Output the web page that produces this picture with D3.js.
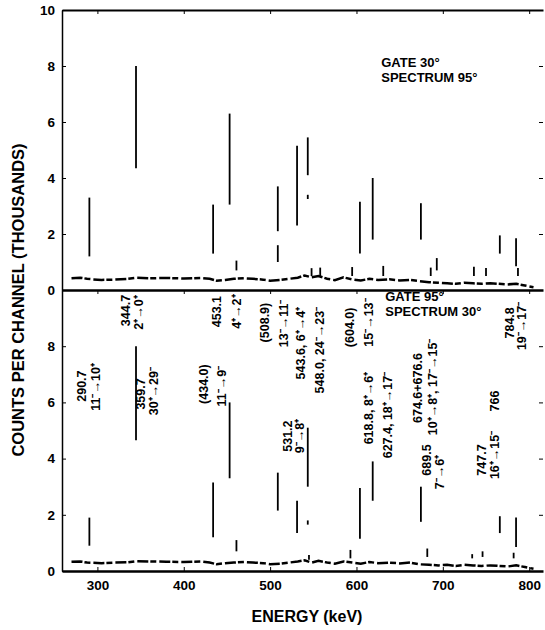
<!DOCTYPE html>
<html>
<head>
<meta charset="utf-8">
<title></title>
<script src="https://d3js.org/d3.v7.min.js"></script>
<style>
body { margin: 0; background: #fff; }
svg { display: block; font-family: "Liberation Sans", Arial, sans-serif; font-weight: bold; }
.axis path, .axis line { stroke: #000; }
.axis text { font-size: 13.5px; font-weight: bold; fill: #000; }
</style>
</head>
<body>
<div id="chart"></div>
<script>
const energyDomain = [259, 816];
const countDomain = [0, 10];
const xTicks = [300, 400, 500, 600, 700, 800];
const yTicksUpper = [0, 2, 4, 6, 8, 10];
const yTicksLower = [0, 2, 4, 6, 8];

// gate 30 deg, spectrum 95 deg : background trace [keV, thousands]
const upperBg = [[270,0.42],[280,0.44],[288,0.40],[295,0.38],[305,0.36],[320,0.37],[335,0.40],[345,0.44],
  [360,0.42],[380,0.43],[400,0.41],[420,0.43],[430,0.40],[438,0.33],[448,0.36],[458,0.40],[470,0.42],
  [480,0.40],[492,0.37],[500,0.33],[512,0.36],[522,0.40],[532,0.44],[540,0.52],[548,0.45],[556,0.50],
  [566,0.40],[575,0.35],[585,0.45],[595,0.38],[605,0.34],[615,0.40],[625,0.36],[638,0.38],[650,0.34],
  [662,0.36],[672,0.32],[684,0.28],[695,0.26],[705,0.24],[715,0.22],[725,0.26],[735,0.24],[745,0.22],
  [755,0.24],[765,0.22],[775,0.20],[785,0.22],[795,0.16],[805,0.10]];
// peak strokes [keV, low, high]
const upperPeaks = [[290.7,1.2,3.3],[344.7,4.35,8.0],[434.0,1.3,3.05],[453.1,3.05,6.3],[461,0.7,1.05],
  [508.9,2.1,3.7],[508.9,1.0,1.6],[531.2,2.3,5.15],[543.6,4.1,5.45],[543.6,3.25,3.4],[548,0.5,0.78],
  [558,0.5,0.8],[595,0.5,0.82],[604.0,1.3,3.15],[618.8,1.8,4.0],[631,0.5,0.86],[674.6,1.8,3.1],
  [686,0.5,0.8],[693,0.7,1.14],[736,0.5,0.83],[750,0.5,0.79],[766,1.3,1.95],[784.8,0.85,1.85],[787,0.5,0.79]];

// gate 95 deg, spectrum 30 deg
const lowerBg = [[270,0.33],[280,0.34],[288,0.30],[295,0.29],[305,0.28],[320,0.30],[335,0.31],[345,0.35],
  [360,0.34],[380,0.33],[400,0.32],[420,0.34],[430,0.30],[438,0.24],[448,0.28],[458,0.30],[470,0.32],
  [480,0.30],[492,0.28],[500,0.24],[512,0.26],[522,0.30],[532,0.34],[540,0.38],[548,0.30],[556,0.36],
  [566,0.30],[575,0.26],[585,0.34],[595,0.30],[605,0.26],[615,0.32],[625,0.28],[638,0.30],[650,0.27],
  [662,0.30],[672,0.24],[684,0.22],[695,0.20],[705,0.22],[715,0.18],[725,0.22],[735,0.20],[745,0.18],
  [755,0.20],[765,0.18],[775,0.16],[785,0.20],[795,0.14],[805,0.08]];
const lowerPeaks = [[290.7,0.9,1.9],[344.7,4.65,8.0],[434.0,1.2,3.15],[453.1,3.3,6.0],[461,0.7,1.1],
  [508.9,2.15,3.5],[531.2,1.35,2.5],[543.6,3.0,5.1],[543.6,1.65,1.8],[545,0.4,0.57],[593,0.45,0.75],
  [604.0,1.15,2.95],[618.8,2.5,3.9],[674.6,1.75,3.0],[682,0.5,0.8],[734,0.45,0.6],[746,0.5,0.7],
  [766,1.35,1.95],[782,0.45,0.65],[784.8,0.85,1.9]];

// rotated line labels in lower panel [text, keV, thousands] (centre of each line)
const lowerLabels = [
  ["290.7", 282.0, 6.58], ["11⁻→10⁺", 298.5, 6.55],
  ["344.7", 333.0, 9.27], ["2⁺→0⁺", 347.5, 9.2],
  ["359.7", 350.0, 6.3], ["30⁺→29⁻", 365.0, 6.4],
  ["(434.0)", 423.0, 6.65], ["11⁻→9⁻", 443.5, 6.58],
  ["453.1", 438.5, 9.23], ["4⁺→2⁺", 460.9, 9.23],
  ["(508.9)", 493.5, 8.84], ["13⁻→11⁻", 515.3, 8.81],
  ["531.2", 520.5, 4.8], ["9⁻→8⁺", 534.0, 4.8],
  ["543.6, 6⁺→4⁺", 534.9, 8.11], ["548.0, 24⁻→23⁻", 556.9, 7.86],
  ["(604.0)", 591.7, 8.67], ["15⁻→13⁻", 613.7, 8.84],
  ["618.8, 8⁺→6⁺", 613.7, 5.8], ["627.4, 18⁺→17⁻", 635.6, 5.55],
  ["674.6+676.6", 670.4, 6.51], ["10⁺→8⁺, 17⁻→15⁻", 687.7, 6.55],
  ["689.5", 680.8, 3.95], ["7⁻→6⁺", 695.8, 3.52],
  ["747.7", 744.4, 3.95], ["16⁺→15⁻", 759.5, 4.13],
  ["766", 759.5, 6.05],
  ["784.8", 776.9, 8.83], ["19⁻→17⁻", 790.7, 8.72]
];
const upperTitle = [["GATE 30°", 628.7, 7.95], ["SPECTRUM 95°", 628.7, 7.43]];
const lowerTitle = [["GATE 95°", 633.3, 9.6], ["SPECTRUM 30°", 633.3, 9.08]];

const W = 545, H = 630;
const svg = d3.select('#chart').append('svg').attr('width', W).attr('height', H);

const x = d3.scaleLinear().domain(energyDomain).range([62, 543]);
const yUp = d3.scaleLinear().domain(countDomain).range([290, 10]);
const yLo = d3.scaleLinear().domain(countDomain).range([571, 290]);

function drawPanel(yScale, bg, peaks, ticks) {
  const g = svg.append('g');
  g.append('path')
    .datum(bg)
    .attr('fill', 'none')
    .attr('stroke', '#000')
    .attr('stroke-width', 2.5)
    .attr('stroke-dasharray', '11,2,6,3')
    .attr('d', d3.line().x(d => x(d[0])).y(d => yScale(d[1])));

  g.selectAll('.peak')
    .data(peaks)
    .join('line')
    .attr('class', 'peak')
    .attr('x1', d => x(d[0])).attr('x2', d => x(d[0]))
    .attr('y1', d => yScale(d[1])).attr('y2', d => yScale(d[2]))
    .attr('stroke', '#000')
    .attr('stroke-width', 1.8);

  // left axis, ticks inward
  svg.append('g').attr('class', 'axis')
    .attr('transform', `translate(${x.range()[0]},0)`)
    .call(d3.axisLeft(yScale).tickValues(ticks).tickSize(-4).tickPadding(7).tickSizeOuter(0))
    .call(a => a.select('.domain').attr('stroke-width', 1.5));
  // right ticks only
  svg.append('g').attr('class', 'axis')
    .attr('transform', `translate(${x.range()[1]},0)`)
    .call(d3.axisRight(yScale).tickValues(ticks).tickSize(-4).tickFormat('').tickSizeOuter(0))
    .call(a => a.select('.domain').remove());
}

drawPanel(yUp, upperBg, upperPeaks, yTicksUpper);
drawPanel(yLo, lowerBg, lowerPeaks, yTicksLower);

// top frame line
svg.append('g').attr('class', 'axis')
  .attr('transform', `translate(0,${yUp(10)})`)
  .call(d3.axisTop(x).tickValues(xTicks).tickSize(-4).tickFormat('').tickSizeOuter(0))
  .call(a => a.select('.domain').attr('stroke-width', 2.2));
// middle line (shared)
svg.append('g').attr('class', 'axis')
  .attr('transform', `translate(0,${yUp(0)})`)
  .call(d3.axisBottom(x).tickValues(xTicks).tickSize(4).tickFormat('').tickSizeOuter(0))
  .call(a => a.select('.domain').attr('stroke-width', 2.6));
// bottom axis
svg.append('g').attr('class', 'axis')
  .attr('transform', `translate(0,${yLo(0)})`)
  .call(d3.axisBottom(x).tickValues(xTicks).tickSize(-4).tickPadding(9).tickSizeOuter(0))
  .call(a => a.select('.domain').attr('stroke-width', 2.6));

// panel captions
svg.selectAll('.cap-up')
  .data(upperTitle)
  .join('text')
  .attr('x', d => x(d[1])).attr('y', d => yUp(d[2]))
  .style('font-size', '13px')
  .text(d => d[0]);
svg.selectAll('.cap-lo')
  .data(lowerTitle)
  .join('text')
  .attr('x', d => x(d[1])).attr('y', d => yLo(d[2]))
  .style('font-size', '13px')
  .text(d => d[0]);

// peak labels
svg.selectAll('.lbl')
  .data(lowerLabels)
  .join('text')
  .attr('class', 'lbl')
  .attr('transform', d => `translate(${x(d[1])},${yLo(d[2])}) rotate(-90)`)
  .attr('text-anchor', 'middle')
  .attr('dy', '0.35em')
  .style('font-size', '12.5px')
  .text(d => d[0]);

// axis titles
svg.append('text')
  .attr('transform', 'translate(18,300) rotate(-90)')
  .attr('text-anchor', 'middle')
  .attr('dy', '0.35em')
  .style('font-size', '16.5px')
  .text('COUNTS PER CHANNEL (THOUSANDS)');
svg.append('text')
  .attr('x', 307).attr('y', 622)
  .attr('text-anchor', 'middle')
  .style('font-size', '16px')
  .text('ENERGY (keV)');
</script>
</body>
</html>
